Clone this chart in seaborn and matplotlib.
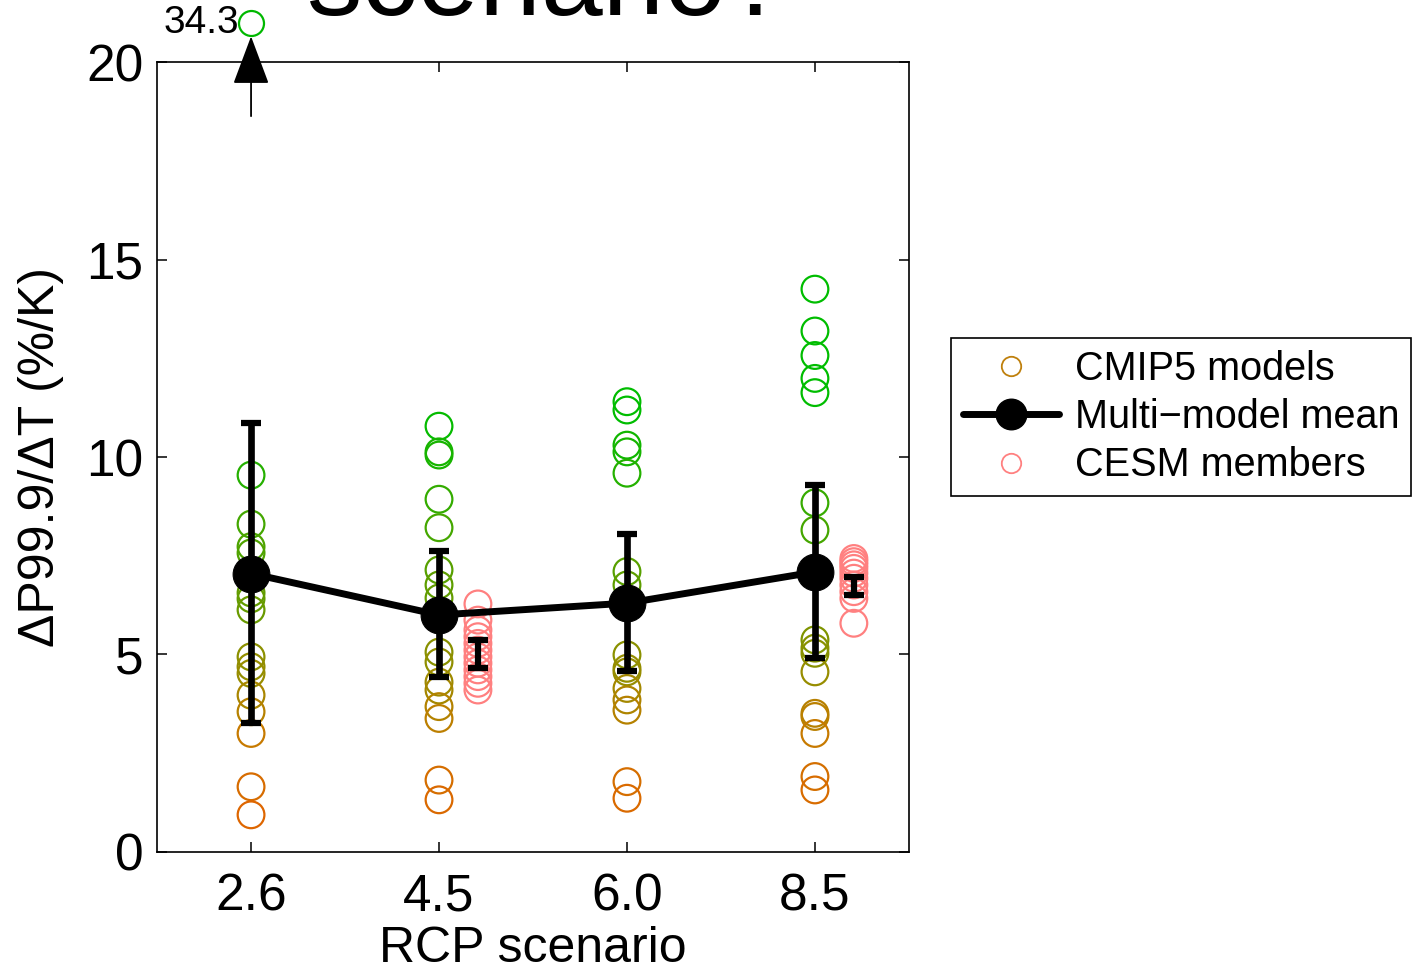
import numpy as np
import pandas as pd
import matplotlib
matplotlib.use("Agg")
import matplotlib.pyplot as plt
import seaborn as sns
from matplotlib.colors import LinearSegmentedColormap, Normalize
from matplotlib.lines import Line2D

# ---------------- data ----------------
scenarios = ["2.6", "4.5", "6.0", "8.5"]
cmip5_26 = [9.54, 8.30, 7.73, 7.57, 6.56, 6.41, 6.13, 4.94, 4.69, 4.52, 3.97, 3.55, 3.00, 1.65, 0.94]
cmip5_45 = [10.78, 10.13, 10.05, 8.93, 8.21, 7.14, 6.76, 6.43, 5.06, 4.81, 4.30, 4.10, 3.68, 3.38, 1.82, 1.32]
cmip5_60 = [11.40, 11.19, 10.30, 10.13, 9.59, 7.10, 6.76, 4.99, 4.65, 4.56, 4.14, 3.85, 3.59, 1.78, 1.36]
cmip5_85 = [14.25, 13.19, 12.57, 11.99, 11.63, 8.84, 8.15, 5.37, 5.16, 5.03, 4.56, 3.51, 3.43, 3.00, 1.91, 1.57]
outlier_value = 34.3          # off-scale CMIP5 model at RCP2.6
mm_mean = [7.05, 6.00, 6.30, 7.09]
mm_lo = [3.27, 4.43, 4.58, 4.91]
mm_hi = [10.86, 7.62, 8.05, 9.29]
cesm_scen = ["4.5", "8.5"]
cesm_45 = [6.28, 5.87, 5.62, 5.45, 5.28, 5.11, 4.94, 4.78, 4.61, 4.44, 4.27, 4.10]
cesm_85 = [7.43, 7.35, 7.27, 7.18, 7.06, 6.93, 6.76, 6.59, 6.42, 5.79]
cesm_mean = [5.01, 6.73]
cesm_lo = [4.65, 6.51]
cesm_hi = [5.37, 6.95]

# ---------------- style ----------------
sns.set_style("ticks")
plt.rcParams["font.family"] = ["Liberation Sans", "DejaVu Sans"]
for k in ["text.color", "axes.labelcolor", "xtick.color", "ytick.color", "axes.edgecolor"]:
    plt.rcParams[k] = "black"

fig = plt.figure(figsize=(14.24, 9.71), dpi=100)
ax = fig.add_axes([0.1103, 0.1226, 0.528, 0.8135])

pos = {s: i + 1 for i, s in enumerate(scenarios)}
cesm_off = 0.207

rows = []
for s, vals in zip(scenarios, [cmip5_26, cmip5_45, cmip5_60, cmip5_85]):
    for v in vals:
        rows.append({"x": pos[s], "y": v})
df = pd.DataFrame(rows)

cmap = LinearSegmentedColormap.from_list(
    "og",
    [(0.0, (0.87, 0.40, 0.0)), (0.2, (0.78, 0.48, 0.0)), (0.35, (0.60, 0.55, 0.0)),
     (0.5, (0.42, 0.60, 0.0)), (0.75, (0.25, 0.66, 0.0)), (0.95, (0.05, 0.72, 0.0)),
     (1.0, (0.0, 0.74, 0.0))])
norm = Normalize(vmin=1, vmax=11)

sns.scatterplot(data=df, x="x", y="y", hue="y", palette=cmap, hue_norm=norm,
                s=370, linewidth=1.6, legend=False, ax=ax, zorder=2)
coll = ax.collections[-1]
coll.set_edgecolors(coll.get_facecolors())
coll.set_facecolors("none")

# CESM members
rows_c = []
for s, vals in zip(cesm_scen, [cesm_45, cesm_85]):
    for v in vals:
        rows_c.append({"x": pos[s] + cesm_off, "y": v})
dfc = pd.DataFrame(rows_c)
sns.scatterplot(data=dfc, x="x", y="y", s=370, facecolor="none",
                edgecolor=(1.0, 0.5, 0.5), linewidth=1.6, legend=False, ax=ax, zorder=2)

# multi-model mean + spread
xm = np.array([pos[s] for s in scenarios], dtype=float)
mm_mean_a = np.array(mm_mean)
ax.errorbar(xm, mm_mean_a, yerr=[mm_mean_a - np.array(mm_lo), np.array(mm_hi) - mm_mean_a],
            fmt="none", ecolor="k", elinewidth=4.8, capsize=7, capthick=4.5, zorder=3)
sns.lineplot(x=xm, y=mm_mean_a, color="k", linewidth=5, marker="o", markersize=26.5,
             markeredgecolor="k", ax=ax, zorder=4)

xc = np.array([pos[s] + cesm_off for s in cesm_scen])
cm = np.array(cesm_mean)
ax.errorbar(xc, cm, yerr=[cm - np.array(cesm_lo), np.array(cesm_hi) - cm],
            fmt="none", ecolor="k", elinewidth=4.5, capsize=7, capthick=4.5, zorder=3)

# off-scale outlier indicator
ax.annotate("", xy=(1, 20.65), xytext=(1, 18.63),
            arrowprops=dict(arrowstyle="-|>,head_length=1.55,head_width=0.58",
                            mutation_scale=20, color="k", lw=1.3, shrinkA=0, shrinkB=0),
            annotation_clip=False, zorder=5)
ax.plot([1], [21.0], marker="o", markersize=18, mfc="none", mec=(0.0, 0.72, 0.0),
        mew=1.6, clip_on=False, zorder=5)
ax.text(0.935, 21.0, f"{outlier_value}", ha="right", va="center", fontsize=28,
        clip_on=False)

# axes
ax.set_xlim(0.5, 4.5)
ax.set_ylim(0, 20)
ax.set_xticks(xm)
ax.set_xticklabels(scenarios)
ax.set_yticks([0, 5, 10, 15, 20])
ax.tick_params(axis="both", direction="in", length=7, width=1.1, labelsize=37,
               top=True, right=True)
ax.tick_params(axis="x", pad=15)
ax.tick_params(axis="y", pad=10)
for sp in ax.spines.values():
    sp.set_visible(True)
    sp.set_color("k")
    sp.set_linewidth(1.2)
ax.set_xlabel("RCP scenario", fontsize=36, labelpad=3)
ax.set_ylabel("ΔP99.9/ΔT (%/K)", fontsize=36, labelpad=16)

# cut-off title
fig.text(0.385, 0.985, "scenario?", ha="center", va="baseline", fontsize=80)

# legend
handles = [
    Line2D([], [], linestyle="none", marker="o", markersize=14, mfc="none",
           mec=(0.75, 0.50, 0.05), mew=1.3),
    Line2D([], [], color="k", lw=5, marker="o", markersize=22),
    Line2D([], [], linestyle="none", marker="o", markersize=14, mfc="none",
           mec=(1.0, 0.5, 0.5), mew=1.3),
]
labels = ["CMIP5 models", "Multi\u2212model mean", "CESM members"]
leg = fig.legend(handles, labels, loc="upper left", bbox_to_anchor=(0.668, 0.652),
                 fontsize=28.5, frameon=True, fancybox=False, edgecolor="k",
                 handlelength=2.42, handletextpad=0.4, borderpad=0.3,
                 labelspacing=0.26, borderaxespad=0, framealpha=1)
leg.get_frame().set_linewidth(1.2)

fig.savefig("out.png", dpi=100)
